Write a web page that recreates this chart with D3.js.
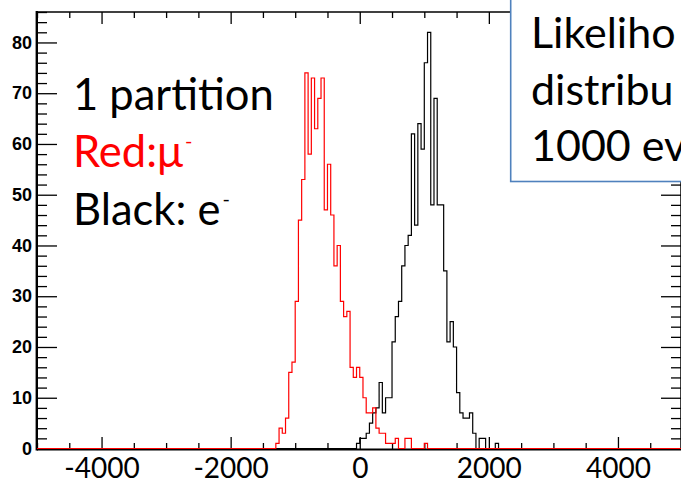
<!DOCTYPE html>
<html>
<head>
<meta charset="utf-8">
<script src="https://cdn.jsdelivr.net/npm/d3@7"></script>
<style>
  body { margin: 0; background: #fff; overflow: hidden; }
  svg { display: block; }
</style>
</head>
<body>
<svg id="chart"></svg>
<script>
// histogram binning (likelihood value, 50 wide bins)
var xMin = -5000, xMax = 5000, binWidth = 50;

// red: mu- events, counts per bin starting at redStart
var redStart = -1300;
var redCounts = [1, 4, 3, 6, 15, 17, 29, 45, 53, 74, 58, 73, 63, 69, 73, 47, 56, 46,
                 36, 40, 29, 26, 27, 16, 14, 16, 14, 10, 7, 7, 8, 4, 3, 3, 1, 1, 1, 2,
                 0, 0, 2, 2, 0, 0, 0, 0, 1];

// black: e- events
var blackStart = -50;
var blackCounts = [1, 2, 2, 3, 5, 7, 8, 13, 7, 10, 10, 21, 26, 29, 36, 40, 42, 62, 44,
                   64, 59, 76, 82, 48, 69, 48, 48, 35, 21, 25, 20, 11, 7, 6, 6, 7, 3,
                   0, 2, 2, 0, 0, 0, 1];

var xMajor = [-4000, -2000, 0, 2000, 4000];
var yMajor = [0, 10, 20, 30, 40, 50, 60, 70, 80];

// what is visible of the box text (the slide is cut at the right edge)
var boxLines = ["Likeliho", "distribu", "1000 ev"];

var width = 681, height = 498;
var svg = d3.select("#chart")
    .attr("width", width)
    .attr("height", height);

var x = d3.scaleLinear().domain([xMin, xMax]).range([37, 682.5]);
var y = d3.scaleLinear().domain([0, 86]).range([448.5, 12]);

var xMinor = d3.range(xMin, xMax + 1, 500).filter(d => xMajor.indexOf(d) < 0);
var yMinor = d3.range(0, 87, 2).filter(d => d % 10 !== 0);

// spread the counts over the full axis range, empty bins are 0
function fullBins(start, counts) {
  var bins = [];
  for (var v = xMin; v < xMax; v += binWidth) {
    var i = Math.round((v - start) / binWidth);
    bins.push({ x0: v, n: (i >= 0 && i < counts.length) ? counts[i] : 0 });
  }
  bins.push({ x0: xMax, n: bins[bins.length - 1].n });
  return bins;
}

// ticks (all pointing inward)
function tickAxis(axis, size, values, pos, labels) {
  var g = svg.append("g")
      .attr("transform", pos)
      .call(axis.tickValues(values).tickSize(size));
  g.select(".domain").remove();
  g.selectAll(".tick line").attr("stroke", "#000").attr("stroke-width", 1.3);
  if (!labels) g.selectAll(".tick text").remove();
  return g;
}

tickAxis(d3.axisLeft(y), -10, yMinor, "translate(37,0)", false);
tickAxis(d3.axisRight(y), -10, yMinor, "translate(681,0)", false);
tickAxis(d3.axisRight(y), -20, yMajor, "translate(681,0)", false);
tickAxis(d3.axisTop(x), -6, xMinor, "translate(0,12)", false);
tickAxis(d3.axisTop(x), -12, xMajor, "translate(0,12)", false);
tickAxis(d3.axisBottom(x), -6, xMinor, "translate(0,449)", false);

var yAxis = tickAxis(d3.axisLeft(y).tickPadding(5).tickFormat(d => String(d)),
                     -20, yMajor, "translate(37,0)", true);
yAxis.attr("font-family", "'Liberation Sans', Arial, sans-serif")
    .attr("font-size", 18)
    .attr("font-weight", "bold");
yAxis.selectAll(".tick text").attr("fill", "#000");

var xAxis = tickAxis(d3.axisBottom(x).tickPadding(9).tickFormat(d => String(d)),
                     -12, xMajor, "translate(0,449)", true);
xAxis.attr("font-family", "Lato, sans-serif")
    .attr("font-size", 28);
xAxis.selectAll(".tick text").attr("fill", "#000");

// frame
var frame = svg.append("g").attr("stroke", "#000").attr("fill", "none");
frame.append("line").attr("x1", 37).attr("x2", 682).attr("y1", 12).attr("y2", 12).attr("stroke-width", 1.6);
frame.append("line").attr("x1", 37).attr("x2", 682).attr("y1", 449.5).attr("y2", 449.5).attr("stroke-width", 2.2);
frame.append("line").attr("x1", 36.8).attr("x2", 36.8).attr("y1", 11).attr("y2", 450.5).attr("stroke-width", 2.4);
frame.append("line").attr("x1", 681).attr("x2", 681).attr("y1", 12).attr("y2", 449).attr("stroke-width", 1.5);

// histograms as outlines
var step = d3.line()
    .x(d => x(d.x0))
    .y(d => y(d.n))
    .curve(d3.curveStepAfter);

svg.append("path")
    .datum(fullBins(blackStart, blackCounts))
    .attr("d", step)
    .attr("fill", "none")
    .attr("stroke", "#000")
    .attr("stroke-width", 1.2);

svg.append("path")
    .datum(fullBins(redStart, redCounts))
    .attr("d", step)
    .attr("fill", "none")
    .attr("stroke", "#ff0000")
    .attr("stroke-width", 1.2);

// annotations
var notes = svg.append("g")
    .attr("font-family", "Lato, 'Noto Sans', sans-serif")
    .attr("font-size", 43.5)
    .attr("fill", "#000");

notes.append("text").attr("x", 73).attr("y", 110).text("1 partition");

var red = notes.append("text").attr("x", 73).attr("y", 166.7).attr("fill", "#ff0000");
red.append("tspan").text("Red:μ");
red.append("tspan").attr("font-size", 20).attr("dx", 2).attr("dy", -19).text("-");

var black = notes.append("text").attr("x", 73).attr("y", 225);
black.append("tspan").text("Black: e");
black.append("tspan").attr("font-size", 20).attr("dx", 2).attr("dy", -19).text("-");

// text box at top right
svg.append("rect")
    .attr("x", 510.7)
    .attr("y", -20)
    .attr("width", 250)
    .attr("height", 201.5)
    .attr("fill", "#fff")
    .attr("stroke", "#4f81bd")
    .attr("stroke-width", 1.6);

svg.append("g")
    .attr("font-family", "Lato, 'Noto Sans', sans-serif")
    .attr("font-size", 43)
    .attr("fill", "#000")
  .selectAll("text")
  .data(boxLines)
  .join("text")
    .attr("x", 531)
    .attr("y", (d, i) => 48 + i * 56.5)
    .text(d => d);
</script>
</body>
</html>
